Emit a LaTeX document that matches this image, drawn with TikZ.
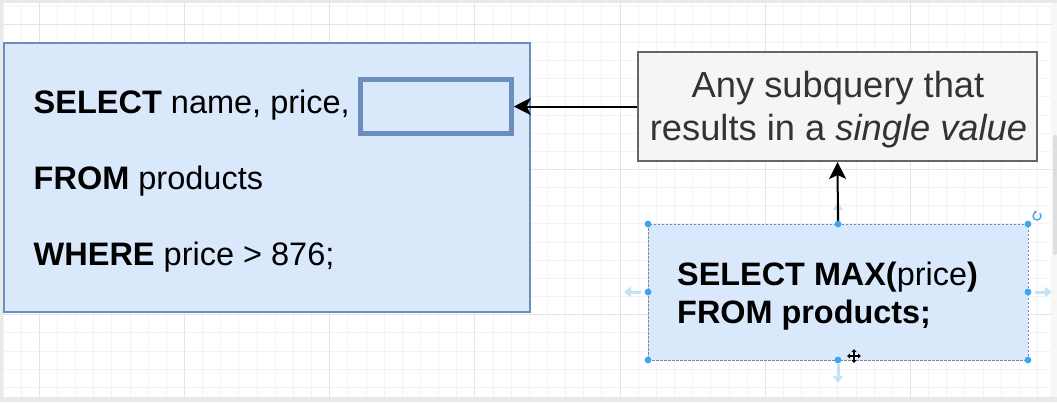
\documentclass[tikz,border=0pt]{standalone}
\usepackage{fontspec}
\setmainfont{Liberation Sans}
\usetikzlibrary{arrows.meta}

\definecolor{qfill}{HTML}{DAE8FC}
\definecolor{qline}{HTML}{6C8EBF}
\definecolor{nfill}{HTML}{F5F5F5}
\definecolor{nline}{HTML}{666666}
\definecolor{ntext}{HTML}{333333}
\definecolor{handle}{HTML}{3DA5F0}
\definecolor{hover}{HTML}{C4E2F6}
\definecolor{gridminor}{HTML}{F3F3F3}
\definecolor{gridmajor}{HTML}{E4E4E4}
\definecolor{framegray}{HTML}{E9E9E9}
\definecolor{strip}{HTML}{F7F7F7}
\definecolor{thumb}{HTML}{DDDDDD}

\begin{document}
\begin{tikzpicture}[x=1pt,y=-1pt,
  querybox/.style={draw=qline, fill=qfill, line width=1.5pt, inner sep=0pt, outer sep=0pt},
  slotbox/.style={draw=qline, fill=qfill, line width=4.5pt, inner sep=0pt, outer sep=2.25pt},
  notebox/.style={draw=nline, fill=nfill, line width=2pt, inner sep=0pt, outer sep=1pt},
  subbox/.style={draw=qline!80!gray, fill=qfill, line width=1pt, dash pattern=on 2.5pt off 1.5pt, inner sep=0pt, outer sep=0pt},
  sqltext/.style={inner sep=0pt, text=black, font=\fontsize{32.5}{39}\selectfont},
  subtext/.style={inner sep=0pt, text=black, font=\fontsize{32.4}{38.5}\selectfont},
  notetext/.style={inner sep=0pt, text=ntext, font=\fontsize{36.3}{43.5}\selectfont},
  conn/.style={draw=black, line width=2pt, -{Stealth[length=17pt,width=17pt,inset=4pt]}},
  hoverarrow/.style={draw=hover, line width=3pt, -{Triangle[length=7pt,width=10pt]}},
  handledot/.style={fill=handle}
]
\useasboundingbox (0,0) rectangle (1057,402);

% editor frame and canvas
\fill[framegray] (0,0) rectangle (1057,402);
\fill[white] (3,3) rectangle (1051,397);
\fill[strip] (1051,3) rectangle (1057,397);
\fill[thumb, rounded corners=2pt] (1053,135) rectangle (1057,255);

% background grid
\begin{scope}
  \clip (3,3) rectangle (1051,397);
  \foreach \i in {-2,...,56} {
    \pgfmathsetmacro{\gx}{39.3+18.15*\i}
    \draw[gridminor, line width=1pt] (\gx,3) -- (\gx,397);
  }
  \foreach \j in {-1,...,21} {
    \pgfmathsetmacro{\gy}{24.3+18.15*\j}
    \draw[gridminor, line width=1pt] (3,\gy) -- (1051,\gy);
  }
  \foreach \i in {0,8,...,48} {
    \pgfmathsetmacro{\gx}{39.3+18.15*\i}
    \draw[gridmajor, line width=1pt] (\gx,3) -- (\gx,397);
  }
  \foreach \j in {0,8,16} {
    \pgfmathsetmacro{\gy}{24.3+18.15*\j}
    \draw[gridmajor, line width=1pt] (3,\gy) -- (1051,\gy);
  }
\end{scope}

% outer query with its placeholder slot
\node[querybox, minimum width=526pt, minimum height=269pt] (main) at (267,177.5) {};
\node[slotbox, minimum width=151pt, minimum height=54pt] (slot) at (436,106.5) {};
\node[sqltext, anchor=base west] (l1) at (33.5,113.3) {\textbf{SELECT} name, price,};
\node[sqltext, anchor=base west] (l2) at (33.5,189.5) {\textbf{FROM} products};
\node[sqltext, anchor=base west] (l3) at (33.5,265.7) {\textbf{WHERE} price > 876;};

% explanatory note
\node[notebox, minimum width=399pt, minimum height=109pt] (note) at (837.5,106.5) {};
\node[notetext, anchor=base] (n1) at (838,97.5) {Any subquery that};
\node[notetext, anchor=base] (n2) at (838.5,140) {results in a \textit{single value}};

% subquery box (selected)
\draw[hoverarrow] (838,221) -- (838,203);
\node[subbox, minimum width=380pt, minimum height=136pt] (sub) at (838,292) {};
\node[subtext, anchor=base west] (s1) at (677,285) {\textbf{SELECT MAX(}price\textbf{)}};
\node[subtext, anchor=base west] (s2) at (677,323.3) {\textbf{FROM products;}};

% connectors
\draw[conn] (note.west) -- (slot.east);
\draw[conn] (sub.north) -- (note.south);

% selection handles and hover arrows
\foreach \p in {north west,north,north east,west,east,south west,south,south east}
  \fill[handledot] (sub.\p) circle (3.4);
\draw[hoverarrow] (641,292) -- (624,292);
\draw[hoverarrow] (1035,292) -- (1052,292);
\draw[hoverarrow] (838,364) -- (838,383);

% rotation handle
\draw[handle, line width=1.3pt, -{Triangle[length=2.5pt,width=3.5pt]}]
  (1037,216) ++(-45:4) arc (-45:270:4);

% move cursor
\begin{scope}[shift={(854,356)}]
  \draw[white, line width=3.5pt] (-7,0) -- (7,0) (0,-7) -- (0,7);
  \draw[black, line width=1.2pt, {Triangle[length=3pt,width=5pt]}-{Triangle[length=3pt,width=5pt]}] (-7,0) -- (7,0);
  \draw[black, line width=1.2pt, {Triangle[length=3pt,width=5pt]}-{Triangle[length=3pt,width=5pt]}] (0,-7) -- (0,7);
\end{scope}
\end{tikzpicture}
\end{document}
